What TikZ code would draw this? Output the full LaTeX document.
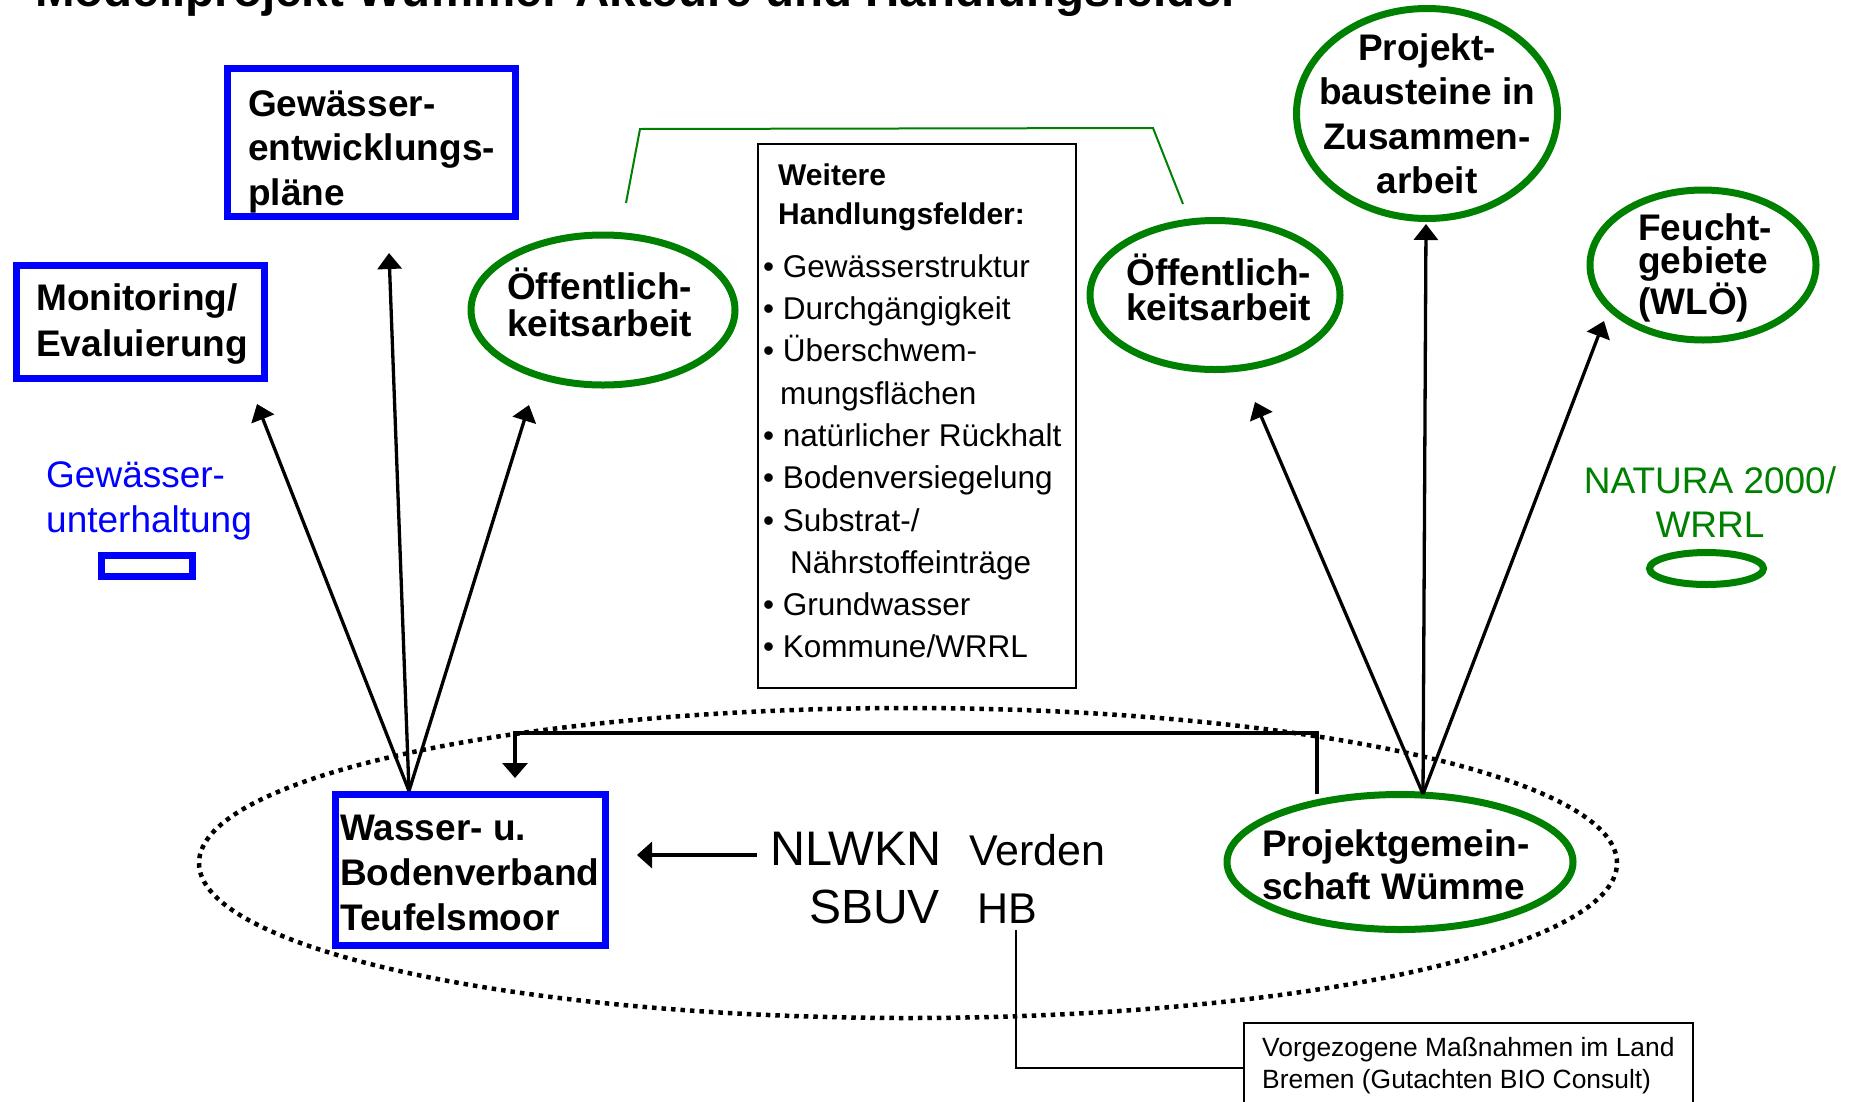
\documentclass[tikz,border=0pt]{standalone}
\usepackage{fontspec}
\setmainfont{Liberation Sans}
\usetikzlibrary{arrows.meta,shapes.geometric,calc}
\definecolor{pblue}{RGB}{0,0,255}
\definecolor{pgreen}{RGB}{0,128,0}
\newcommand\tstrut[1]{\rule{0pt}{#1}}
\begin{document}
\begin{tikzpicture}[x=1pt,y=-1pt,
  bluebox/.style={draw=pblue, line width=7pt, rectangle, inner sep=0pt},
  greenell/.style={draw=pgreen, line width=7pt, ellipse, inner sep=0pt},
  lbl/.style={align=left, inner sep=0pt, anchor=north west},
  arr/.style={line width=3.3pt, -{Triangle[length=16pt,width=24pt]}},
  thinbox/.style={draw, line width=2pt, rectangle, inner sep=0pt},
]
\useasboundingbox (0,0) rectangle (1852,1101);

% group ellipse
\node[draw, ellipse, line width=4.5pt, dash pattern=on 4.5pt off 5pt, minimum width=1418pt, minimum height=310pt, inner sep=0pt] (group) at (908,863) {};

% title
\node[font=\fontsize{47.5}{57}\selectfont\bfseries, anchor=base west, inner sep=0pt] (title) at (35,6) {Modellprojekt Wümme: Akteure und Handlungsfelder};

% blue boxes
\node[bluebox, minimum width=288pt, minimum height=148pt] (gep) at (371.5,142.5) {};
\node[lbl, font=\fontsize{37}{44.5}\selectfont\bfseries] (gept) at (248,79) {\tstrut{37pt}Gewässer-\\entwicklungs-\\pläne};

\node[bluebox, minimum width=248.5pt, minimum height=113pt] (mon) at (140.25,322) {};
\node[lbl, font=\fontsize{37}{46}\selectfont\bfseries] (mont) at (36,273) {\tstrut{37pt}Monitoring/\\Evaluierung};

\node[lbl, font=\fontsize{37}{45}\selectfont, text=pblue] (gu) at (46,450) {\tstrut{37pt}Gewässer-\\unterhaltung};
\node[bluebox, minimum width=91pt, minimum height=21pt] (gulegend) at (147,566) {};

\node[bluebox, minimum width=270pt, minimum height=151pt] (wasser) at (470.5,870) {};
\node[lbl, font=\fontsize{37}{45}\selectfont\bfseries] (wassert) at (340,803) {\tstrut{37pt}Wasser- u.\\Bodenverband\\Teufelsmoor};

% green ellipses
\node[greenell, minimum width=264pt, minimum height=150pt] (oeffL) at (603,310) {};
\node[lbl, font=\fontsize{37}{37}\selectfont\bfseries] (oeffLt) at (507,262) {\tstrut{37pt}Öffentlich-\\keitsarbeit};

\node[greenell, minimum width=250pt, minimum height=149pt] (oeffR) at (1215,295) {};
\node[lbl, font=\fontsize{37}{35}\selectfont\bfseries] (oeffRt) at (1126,248) {\tstrut{37pt}Öffentlich-\\keitsarbeit};

\node[greenell, minimum width=261pt, minimum height=210pt] (proj) at (1427,113.5) {};
\node[align=center, inner sep=0pt, anchor=north, font=\fontsize{37}{44.5}\selectfont\bfseries] (projt) at (1427,23) {\tstrut{37pt}Projekt-\\bausteine in\\Zusammen-\\arbeit};

\node[greenell, minimum width=226pt, minimum height=150pt] (feucht) at (1703,265) {};
\node[lbl, font=\fontsize{37}{33.5}\selectfont\bfseries] (feuchtt) at (1638,203) {\tstrut{37pt}Feucht-\\gebiete\\(WLÖ)};

\node[align=center, inner sep=0pt, anchor=north, font=\fontsize{37}{44}\selectfont, text=pgreen] (natura) at (1710,456) {\tstrut{37pt}NATURA 2000/\\WRRL};
\node[draw=pgreen, line width=7pt, ellipse, inner sep=0pt, minimum width=114pt, minimum height=32pt] (naturalegend) at (1706.5,568.5) {};

\node[greenell, minimum width=346pt, minimum height=135pt] (pgw) at (1400,862) {};
\node[lbl, font=\fontsize{37}{43}\selectfont\bfseries] (pgwt) at (1262,819) {\tstrut{37pt}Projektgemein-\\schaft Wümme};

% authorities
\node[anchor=base west, inner sep=0pt, font=\fontsize{48.5}{50}\selectfont] (nlwkn) at (770,865) {NLWKN};
\node[anchor=base west, inner sep=0pt, font=\fontsize{43}{45}\selectfont] (verden) at (969,865) {Verden};
\node[anchor=base west, inner sep=0pt, font=\fontsize{48}{50}\selectfont] (sbuv) at (809,923) {SBUV};
\node[anchor=base west, inner sep=0pt, font=\fontsize{43}{45}\selectfont] (hb) at (977,923) {HB};

% Weitere Handlungsfelder box
\node[thinbox, anchor=north west, minimum width=318pt, minimum height=544pt] (weit) at (757,143) {};
\node[lbl, font=\fontsize{30}{39}\selectfont\bfseries] (weith) at (778,155) {\tstrut{30pt}Weitere\\Handlungsfelder:};
\node[lbl, font=\fontsize{31.5}{42.3}\selectfont] (weiti) at (763,245.5) {\tstrut{31.5pt}• Gewässerstruktur\\
• Durchgängigkeit\\
• Überschwem-\\
\hspace*{17pt}mungsflächen\\
• natürlicher Rückhalt\\
• Bodenversiegelung\\
• Substrat-/\\
\hspace*{27pt}Nährstoffeinträge\\
• Grundwasser\\
• Kommune/WRRL};

% Vorgezogene box
\node[thinbox, anchor=north west, minimum width=449pt, minimum height=120pt] (vorg) at (1243,1022) {};
\node[lbl, font=\fontsize{26.4}{31.5}\selectfont] (vorgt) at (1262,1030.1) {\tstrut{26.4pt}Vorgezogene Maßnahmen im Land\\Bremen (Gutachten BIO Consult)};

% green link between the two Oeffentlichkeitsarbeit ellipses
\coordinate (g1) at (626,203);
\coordinate (g2) at (640,129);
\coordinate (g3) at (1153,128);
\coordinate (g4) at (1183,204);
\draw[pgreen, line width=2pt] (g1) -- (g2) -- (g3) -- (g4);

% left fan
\coordinate (fanL) at (409,791);
\coordinate (tipMon) at (257,404);
\coordinate (tipGep) at (389,253);
\coordinate (tipOeffL) at (529,405);
\draw[arr] (fanL) -- (tipMon);
\draw[arr] (fanL) -- (tipGep);
\draw[arr] (fanL) -- (tipOeffL);

% right fan
\coordinate (fanR) at (1423,794);
\coordinate (tipOeffR) at (1255,402);
\coordinate (tipProj) at (1426,224);
\coordinate (tipFeucht) at (1604,321);
\draw[arr] (fanR) -- (tipOeffR);
\draw[arr] (fanR) -- (tipProj);
\draw[arr] (fanR) -- (tipFeucht);

% connector from Projektgemeinschaft back to Wasser- u. Bodenverband
\coordinate (c1) at (1317,794);
\coordinate (c2) at (1317,733);
\coordinate (c3) at (515,733);
\coordinate (c4) at (515,778);
\draw[line width=3.3pt, -{Triangle[length=15pt,width=25pt]}] (c1) -- (c2) -- (c3) -- (c4);

% NLWKN arrow
\coordinate (n1) at (757,855);
\coordinate (n2) at (637,855);
\draw[line width=3.3pt, -{Triangle[length=15pt,width=26pt]}] (n1) -- (n2);

% HB to Vorgezogene box
\coordinate (hb1) at (1016,930);
\draw[line width=2pt] (hb1) |- ($(vorg.north west)+(0,46)$);
\end{tikzpicture}
\end{document}
